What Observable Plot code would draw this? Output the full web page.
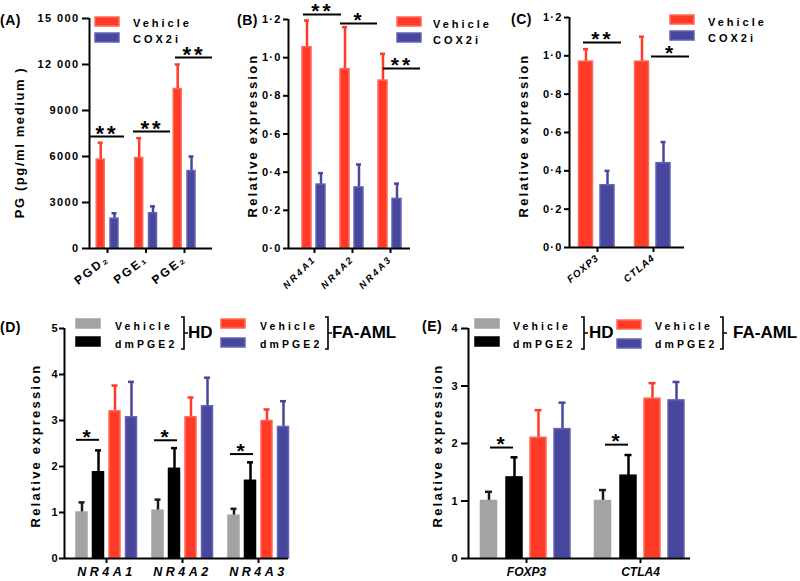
<!DOCTYPE html>
<html><head><meta charset="utf-8">
<script src="https://cdn.jsdelivr.net/npm/d3@7"></script>
<script src="https://cdn.jsdelivr.net/npm/@observablehq/plot@0.6"></script>
<style>
body{margin:0;background:#fff;}
#root{position:relative;width:800px;height:581px;overflow:hidden;font-family:"Liberation Sans",Arial,sans-serif;}
#root svg{position:absolute;left:0;top:0;overflow:visible;}
</style></head><body><div id="root"></div>
<script>
// ---------- DATA ----------
// Panel A
const A_categories = ["PGD₂", "PGE₁", "PGE₂"];
const A_vehicle = [5800, 5900, 10400];
const A_vehicleErr = [6900, 7200, 12000];
const A_cox2i = [1950, 2300, 5050];
const A_cox2iErr = [2300, 2750, 6000];
const A_sigLevel = [7300, 7630, 12450];
const A_sigText = ["**", "**", "**"];
const A_yTicks = [0, 3000, 6000, 9000, 12000, 15000];
const A_yTickLabels = ["0", "3000", "6000", "9000", "12 000", "15 000"];
// Panel B
const B_categories = ["NR4A1", "NR4A2", "NR4A3"];
const B_vehicle = [1.055, 0.94, 0.88];
const B_vehicleErr = [1.195, 1.16, 1.02];
const B_cox2i = [0.335, 0.32, 0.26];
const B_cox2iErr = [0.395, 0.44, 0.34];
const B_sigLevel = [1.226, 1.179, 0.943];
const B_sigText = ["**", "*", "**"];
// Panel C
const C_categories = ["FOXP3", "CTLA4"];
const C_vehicle = [0.97, 0.97];
const C_vehicleErr = [1.035, 1.10];
const C_cox2i = [0.325, 0.44];
const C_cox2iErr = [0.40, 0.55];
const C_sigLevel = [1.07, 0.997];
const C_sigText = ["**", "*"];
const BC_yTicks = [0, 0.2, 0.4, 0.6, 0.8, 1.0, 1.2];
const BC_yTickLabels = ["0·0", "0·2", "0·4", "0·6", "0·8", "1·0", "1·2"];
// Panel D
const D_categories = ["NR4A1", "NR4A2", "NR4A3"];
const D_hdVehicle = [1.00, 1.04, 0.93];
const D_hdVehicleErr = [1.22, 1.28, 1.08];
const D_hdDmPGE2 = [1.875, 1.95, 1.69];
const D_hdDmPGE2Err = [2.35, 2.40, 2.09];
const D_amlVehicle = [3.20, 3.07, 2.99];
const D_amlVehicleErr = [3.76, 3.50, 3.24];
const D_amlDmPGE2 = [3.07, 3.31, 2.86];
const D_amlDmPGE2Err = [3.84, 3.93, 3.42];
const D_sigLevel = [2.58, 2.57, 2.27];
const D_sigText = ["*", "*", "*"];
const D_yTicks = [0, 1, 2, 3, 4, 5];
// Panel E
const E_categories = ["FOXP3", "CTLA4"];
const E_hdVehicle = [1.00, 1.00];
const E_hdVehicleErr = [1.16, 1.19];
const E_hdDmPGE2 = [1.41, 1.44];
const E_hdDmPGE2Err = [1.76, 1.80];
const E_amlVehicle = [2.10, 2.78];
const E_amlVehicleErr = [2.58, 3.05];
const E_amlDmPGE2 = [2.25, 2.75];
const E_amlDmPGE2Err = [2.71, 3.07];
const E_sigLevel = [1.93, 1.98];
const E_sigText = ["*", "*"];
const E_yTicks = [0, 1, 2, 3, 4];
// Legend labels
const legendAC = ["Vehicle", "COX2i"];
const legendDE = ["Vehicle", "dmPGE2"];
const groupDE = ["HD", "FA-AML"];
const panelLetters = ["(A)", "(B)", "(C)", "(D)", "(E)"];
const yTitleA = "PG (pg/ml medium )";
const yTitle = "Relative expression";

// ---------- STYLE ----------
const W = 800, H = 581;
const RED = {fill: "#ff3a26", stroke: "#ff6a58", err: "#ff3a26"};
const BLUE = {fill: "#47479d", stroke: "#6464b4", err: "#47479d"};
const GRAY = {fill: "#a3a3a3", stroke: "#a3a3a3", err: "#1a1a1a"};
const BLACK = {fill: "#000", stroke: "#000", err: "#000"};
const FONT = "'Liberation Sans', Arial, sans-serif";
const root = document.getElementById("root");

function panel(cfg) {
  const x0 = (cfg.axisX - cfg.c0) / cfg.step;
  const x1 = (cfg.axisEnd - cfg.c0) / cfg.step;
  const idx = cfg.cats.map((_, i) => i);
  const px = v => v / cfg.step;
  const marks = [];
  for (const s of cfg.series) {
    const o = px(s.offset), hw = px(cfg.barW / 2), cw = px(cfg.capW / 2);
    marks.push(Plot.ruleX(idx, {x: i => i + o, y1: i => s.values[i], y2: i => s.err[i], stroke: s.color.err, strokeWidth: cfg.errW}));
    marks.push(Plot.ruleY(idx, {y: i => s.err[i], x1: i => i + o - cw, x2: i => i + o + cw, stroke: s.color.err, strokeWidth: cfg.errW}));
    marks.push(Plot.rectY(idx, {x1: i => i + o - hw, x2: i => i + o + hw, y1: () => 0, y2: i => s.values[i], fill: s.color.fill, stroke: s.color.stroke, strokeWidth: 1.5}));
  }
  marks.push(Plot.ruleY([cfg.yDomain[0]], {stroke: "#000", strokeWidth: 2}));
  marks.push(Plot.ruleX([x0], {stroke: "#000", strokeWidth: 2}));
  const sx1 = i => i + px(cfg.sigSpans[i][0]), sx2 = i => i + px(cfg.sigSpans[i][1]);
  marks.push(Plot.ruleY(idx, {y: i => cfg.sigLevel[i], x1: sx1, x2: sx2, stroke: "#000", strokeWidth: 2}));
  marks.push(Plot.text(idx, {x: i => (sx1(i) + sx2(i)) / 2, y: i => cfg.sigLevel[i], text: i => cfg.sigText[i], fontSize: cfg.sigSize, fontWeight: "bold", lineAnchor: "middle", dy: cfg.sigDy}));
  marks.push(Plot.axisY({ticks: cfg.yTicks, tickFormat: d => cfg.yTickLabels[cfg.yTicks.indexOf(d)], tickSize: cfg.yTickSize, tickPadding: cfg.yTickPad, strokeWidth: 2, fontSize: cfg.yTickFont, fontWeight: "bold", label: null}));
  marks.push(Plot.axisX({ticks: idx, tickFormat: i => cfg.cats[i], tickSize: 5, tickPadding: cfg.xTickPad, tickRotate: cfg.xRotate, strokeWidth: 2, fontSize: cfg.xTickFont, fontStyle: cfg.xItalic ? "italic" : "normal", fontWeight: "bold", label: null}));
  marks.push(Plot.text([cfg.yLabel], {text: d => d, frameAnchor: "left", textAnchor: "middle", rotate: -90, dx: cfg.yLabelDx, dy: cfg.yLabelDy, fontSize: 13, fontWeight: "bold"}));
  const svg = Plot.plot({
    width: W, height: H,
    marginLeft: cfg.axisX, marginRight: W - cfg.axisEnd,
    marginTop: cfg.yTop, marginBottom: H - cfg.yBottom,
    x: {domain: [x0, x1]},
    y: {domain: cfg.yDomain},
    style: {fontFamily: FONT, fontWeight: "bold", color: "#000", background: "transparent", overflow: "visible"},
    marks
  });
  // letter spacing by text content
  d3.select(svg).selectAll("text").each(function () {
    const t = this.textContent;
    let ls = null;
    if (t === cfg.yLabel) ls = cfg.yLabelLS;
    else if (cfg.yTickLabels.includes(t)) ls = cfg.yTickLS;
    else if (cfg.cats.includes(t)) ls = cfg.xTickLS;
    else if (cfg.sigText.includes(t)) ls = 3;
    if (ls != null) this.setAttribute("letter-spacing", ls);
  });
  root.appendChild(svg);
}

// Panel A
panel({
  cats: A_categories, axisX: 89, axisEnd: 212, c0: 107, step: 38.5,
  yTop: 18, yBottom: 248, yDomain: [0, 15000],
  series: [
    {values: A_vehicle, err: A_vehicleErr, color: RED, offset: -6.8},
    {values: A_cox2i, err: A_cox2iErr, color: BLUE, offset: 7}
  ],
  barW: 8, capW: 5, errW: 2.5,
  sigLevel: A_sigLevel, sigText: A_sigText, sigSpans: [[-18, 17], [-12.5, 24.5], [-9, 28]], sigSize: 22, sigDy: -3,
  yTicks: A_yTicks, yTickLabels: A_yTickLabels, yTickSize: 7, yTickPad: 3, yTickFont: 11, yTickLS: 1.4,
  xTickPad: 4, xRotate: -38, xTickFont: 12, xItalic: false, xTickLS: 2.2,
  yLabel: yTitleA, yLabelDx: -70, yLabelDy: 9, yLabelLS: 1.6
});
// Panel B
panel({
  cats: B_categories, axisX: 288, axisEnd: 410, c0: 314, step: 38,
  yTop: 19, yBottom: 248, yDomain: [0, 1.2],
  series: [
    {values: B_vehicle, err: B_vehicleErr, color: RED, offset: -7.5},
    {values: B_cox2i, err: B_cox2iErr, color: BLUE, offset: 6.5}
  ],
  barW: 9, capW: 5, errW: 2.5,
  sigLevel: B_sigLevel, sigText: B_sigText, sigSpans: [[-11, 27], [-12, 25], [-7, 30]], sigSize: 21, sigDy: -3,
  yTicks: BC_yTicks, yTickLabels: BC_yTickLabels, yTickSize: 5, yTickPad: 2, yTickFont: 11, yTickLS: 1.2,
  xTickPad: 4, xRotate: -45, xTickFont: 9.5, xItalic: true, xTickLS: 2.2,
  yLabel: yTitle, yLabelDx: -36, yLabelDy: 1.5, yLabelLS: 2.2
});
// Panel C
panel({
  cats: C_categories, axisX: 569, axisEnd: 684, c0: 597, step: 56,
  yTop: 17, yBottom: 247, yDomain: [0, 1.2],
  series: [
    {values: C_vehicle, err: C_vehicleErr, color: RED, offset: -11.5},
    {values: C_cox2i, err: C_cox2iErr, color: BLUE, offset: 10}
  ],
  barW: 14, capW: 5, errW: 2.5,
  sigLevel: C_sigLevel, sigText: C_sigText, sigSpans: [[-14, 24], [-2, 36]], sigSize: 21, sigDy: -3,
  yTicks: BC_yTicks, yTickLabels: BC_yTickLabels, yTickSize: 5, yTickPad: 2, yTickFont: 11, yTickLS: 1.2,
  xTickPad: 4, xRotate: -40, xTickFont: 10, xItalic: true, xTickLS: 1,
  yLabel: yTitle, yLabelDx: -46, yLabelDy: 3, yLabelLS: 2.2
});
// Panel D
panel({
  cats: D_categories, axisX: 64, axisEnd: 288, c0: 106, step: 76,
  yTop: 328, yBottom: 558, yDomain: [0, 5],
  series: [
    {values: D_hdVehicle, err: D_hdVehicleErr, color: GRAY, offset: -24.5},
    {values: D_hdDmPGE2, err: D_hdDmPGE2Err, color: BLACK, offset: -8},
    {values: D_amlVehicle, err: D_amlVehicleErr, color: RED, offset: 8.5},
    {values: D_amlDmPGE2, err: D_amlDmPGE2Err, color: BLUE, offset: 25}
  ],
  barW: 11, capW: 6, errW: 2.5,
  sigLevel: D_sigLevel, sigText: D_sigText, sigSpans: [[-30, -7], [-28, -5], [-28, -5]], sigSize: 21, sigDy: -3,
  yTicks: D_yTicks, yTickLabels: D_yTicks.map(String), yTickSize: 5, yTickPad: 2, yTickFont: 11, yTickLS: 0,
  xTickPad: 4, xRotate: 0, xTickFont: 12.5, xItalic: true, xTickLS: 3.5,
  yLabel: yTitle, yLabelDx: -29, yLabelDy: 2, yLabelLS: 2.2
});
// Panel E
panel({
  cats: E_categories, axisX: 468, axisEnd: 690, c0: 526, step: 114,
  yTop: 328, yBottom: 558, yDomain: [0, 4],
  series: [
    {values: E_hdVehicle, err: E_hdVehicleErr, color: GRAY, offset: -37.5},
    {values: E_hdDmPGE2, err: E_hdDmPGE2Err, color: BLACK, offset: -12},
    {values: E_amlVehicle, err: E_amlVehicleErr, color: RED, offset: 12},
    {values: E_amlDmPGE2, err: E_amlDmPGE2Err, color: BLUE, offset: 36}
  ],
  barW: 16, capW: 7, errW: 2.5,
  sigLevel: E_sigLevel, sigText: E_sigText, sigSpans: [[-36, -13], [-35, -12]], sigSize: 21, sigDy: -3,
  yTicks: E_yTicks, yTickLabels: E_yTicks.map(String), yTickSize: 7, yTickPad: 4, yTickFont: 11, yTickLS: 0,
  xTickPad: 4, xRotate: 0, xTickFont: 12, xItalic: true, xTickLS: 0,
  yLabel: yTitle, yLabelDx: -31, yLabelDy: 2, yLabelLS: 2.2
});

// ---------- LEGENDS & PANEL LETTERS ----------
const ov = d3.create("svg").attr("width", W).attr("height", H)
  .style("font-family", FONT).style("font-weight", "bold");
function swatch(x, y, c, w = 24, h = 9) {
  ov.append("rect").attr("x", x).attr("y", y).attr("width", w).attr("height", h)
    .attr("fill", c.fill).attr("stroke", c.stroke).attr("stroke-width", 1.5);
}
function label(x, y, t, size, ls) {
  ov.append("text").attr("x", x).attr("y", y).attr("font-size", size)
    .attr("letter-spacing", ls).attr("fill", "#000").text(t);
}
function bracket(x, y1, y2) {
  const ym = (y1 + y2) / 2;
  ov.append("path").attr("d", `M${x - 3},${y1}H${x}V${y2}H${x - 3}M${x},${ym}H${x + 4}`)
    .attr("fill", "none").attr("stroke", "#000").attr("stroke-width", 1.6);
}
// panel letters
[[0, 25], [237, 25], [511, 24], [0, 332], [422, 331]].forEach(([x, y], i) => label(x, y, panelLetters[i], 14, 0.5));
// A, B, C legends
[[95, 133, 17, 27], [397, 433, 17, 28], [670, 708, 15, 26]].forEach(([sx, tx, sy, ty]) => {
  swatch(sx, sy, RED);
  swatch(sx, sy + 16, BLUE);
  label(tx, ty, legendAC[0], 11, 3);
  label(tx, ty + 15.5, legendAC[1], 11, 3);
});
// D, E legends
[[76, 115, 184, 188, 221, 260, 328, 332, 0], [475, 513, 584, 589, 617, 655, 723, 733, 1]].forEach(
  ([gx, tx, bx, hx, rx, t2x, b2x, fx, k]) => {
    swatch(gx, 319, GRAY);
    swatch(gx, 337, BLACK);
    label(tx, 330, legendDE[0], 10.5, 3.1);
    label(tx, 348, legendDE[1], 10.5, 3.1);
    bracket(bx, 317, 349);
    label(hx, 338, groupDE[0], 17, 0);
    swatch(rx, 319 + k, RED);
    swatch(rx, 338 + k, BLUE);
    label(t2x, 330, legendDE[0], 10.5, 3.1);
    label(t2x, 348, legendDE[1], 10.5, 3.1);
    bracket(b2x, 317, 349);
    label(fx, 338, groupDE[1], 17, 0);
  });
root.appendChild(ov.node());
</script></body></html>
